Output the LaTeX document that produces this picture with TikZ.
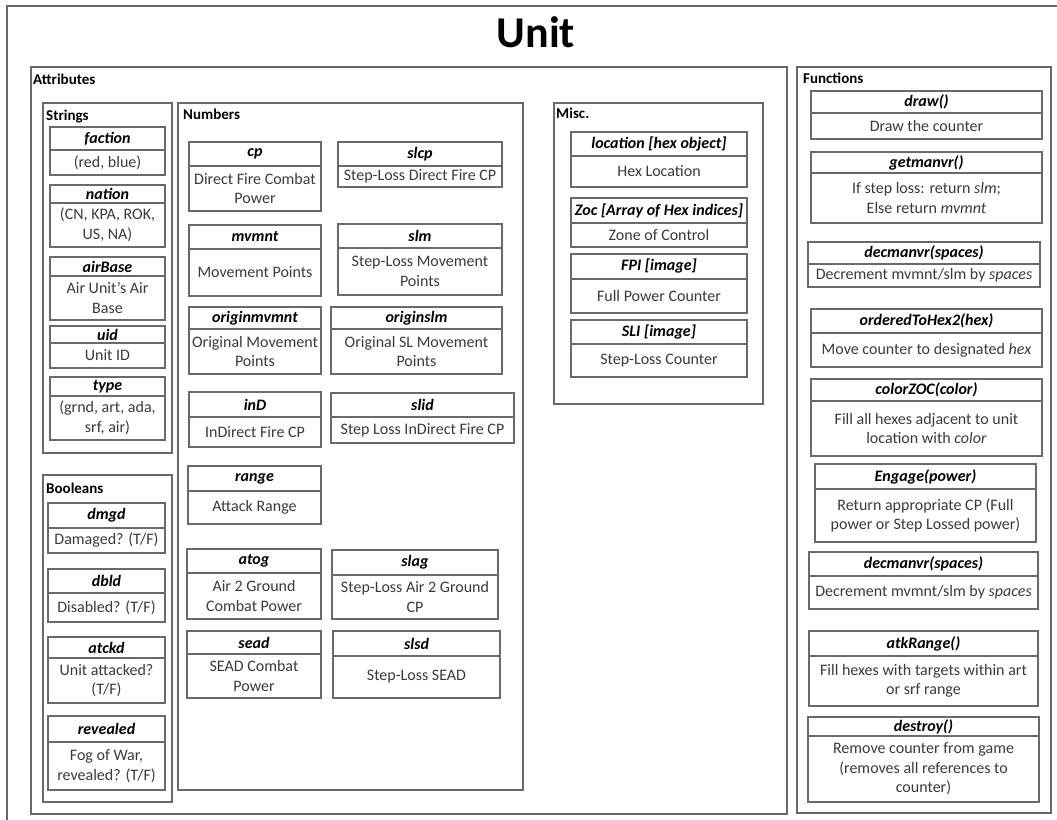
\documentclass[tikz,border=0pt]{standalone}
\usepackage{fontspec}
\setmainfont{Carlito}
\usepackage{xcolor}
\usetikzlibrary{positioning}
\definecolor{linegray}{HTML}{6A6A6A}
\definecolor{textgray}{HTML}{3A3A3A}
\tikzset{fieldhead/.style={draw=linegray,line width=1.2pt,anchor=north west,inner sep=0pt,outer sep=0pt,
             font=\fontsize{16}{19.5}\selectfont\bfseries\itshape},
         fieldbody/.style={draw=linegray,line width=1.2pt,inner sep=0pt,outer sep=0pt,align=center,
             text=textgray,font=\fontsize{16}{19.5}\selectfont},
         group/.style={draw=linegray,line width=1.2pt},
         group label/.style={anchor=base west,inner sep=0pt,font=\fontsize{15}{18}\selectfont\bfseries},
            }
% name, x, y, width, head height, body height, head, body
\newcommand{\field}[8]{%
    \node[fieldhead,minimum width=#4pt,minimum height=#5pt] (#1) at (#2,#3) {#7};
    \node[fieldbody,minimum width=#4pt,minimum height=#6pt,below=0pt of #1] (#1 text) {#8};
}

\begin{document}
\begin{tikzpicture}[x=1pt,y=-1pt]

    \useasboundingbox (0,0) rectangle (1057,819);
    \clip (0,0) rectangle (1057,819);
    \draw[group] (7,6) rectangle (1070,830);
    \node[anchor=base,inner sep=0pt,font=\fontsize{44}{50}\selectfont\bfseries] (title) at (536,47) {Unit};

    % attributes
    \draw[group] (31,67) rectangle (787,814);
    \node[group label] (attr) at (33,84) {Attributes};

    \draw[group] (43,103) rectangle (172,453);
    \node[group label] (strings) at (46,120) {Strings};
    \field{faction}{50}{127}{115}{23}{25}{faction}{(red, blue)}
    \field{nation}{50}{185}{115}{18}{44}{nation}{(CN, KPA, ROK,\\US, NA)}
    \field{airBase}{50}{257}{115}{19}{44}{airBase}{Air Unit’s Air\\Base}
    \field{uid}{50}{326}{115}{17}{25}{uid}{Unit ID}
    \field{type}{50}{377}{115}{19}{44}{type}{(grnd, art, ada,\\srf, air)}

    \draw[group] (43,475) rectangle (172,802);
    \node[group label] (booleans) at (46,493) {Booleans};
    \field{dmgd}{48}{503}{117}{25}{25}{dmgd}{Damaged? (T/F)}
    \field{dbld}{48}{569}{117}{24}{29}{dbld}{Disabled? (T/F)}
    \field{atckd}{48}{637}{117}{21}{45}{atckd}{Unit attacked?\\(T/F)}
    \field{revealed}{48}{716}{117}{26}{48}{revealed}{Fog of War,\\revealed? (T/F)}

    \draw[group] (178,103) rectangle (523,790);
    \node[group label] (numbers) at (183,119) {Numbers};
    \field{cp}{189}{142}{132}{24}{45}{cp}{Direct Fire Combat\\Power}
    \field{slcp}{338}{142}{164}{24}{21}{slcp}{Step-Loss Direct Fire CP}
    \field{mvmnt}{189}{225}{132}{24}{47}{mvmnt}{Movement Points}
    \field{slm}{338}{224}{164}{24}{47}{slm}{Step-Loss Movement\\Points}
    \field{originmvmnt}{189}{307}{132}{22}{45}{originmvmnt}{Original Movement\\Points}
    \field{originslm}{331}{307}{171}{22}{45}{originslm}{Original SL Movement\\Points}
    \field{inD}{189}{392}{132}{25}{30}{inD}{InDirect Fire CP}
    \field{slid}{331}{393}{183}{24}{26}{slid}{Step Loss InDirect Fire CP}
    \field{range}{188}{466}{133}{25}{33}{range}{Attack Range}
    \field{atog}{187}{549}{134}{24}{46}{atog}{Air 2 Ground\\Combat Power}
    \field{slag}{332}{550}{166}{25}{44}{slag}{Step-Loss Air 2 Ground\\CP}
    \field{sead}{187}{631}{134}{23}{44}{sead}{SEAD Combat\\Power}
    \field{slsd}{333}{631}{167}{25}{42}{slsd}{Step-Loss SEAD}

    \draw[group] (554,103) rectangle (763,404);
    \node[group label] (misc) at (556,118) {Misc.};
    \field{location}{571}{132}{176}{24}{31}{location [hex object]}{Hex Location}
    \field{zoc}{571}{198}{176}{25}{24}{Zoc [Array of Hex indices]}{Zone of Control}
    \field{fpi}{571}{254}{176}{25}{34}{FPI [image]}{Full Power Counter}
    \field{sli}{571}{320}{176}{24}{33}{SLI [image]}{Step-Loss Counter}

    % functions
    \draw[group] (797,67) rectangle (1051,813);
    \node[group label] (functions) at (803,83) {Functions};
    \field{draw}{811}{91}{231}{22}{26}{draw()}{Draw the counter}
    \field{getmanvr}{811}{152}{231}{21}{50}{getmanvr()}{If step loss: return \textit{slm};\\Else return \textit{mvmnt}}
    \field{decmanvr}{808}{242}{232}{22}{23}{decmanvr(spaces)}{Decrement mvmnt/slm by \textit{spaces}}
    \field{orderedToHex}{811}{309}{231}{24}{34}{orderedToHex2(hex)}{Move counter to designated \textit{hex}}
    \field{colorZOC}{811}{379}{231}{22}{55}{colorZOC(color)}{Fill all hexes adjacent to unit\\location with \textit{color}}
    \field{engage}{815}{464}{221}{25}{53}{Engage(power)}{Return appropriate CP (Full\\power or Step Lossed power)}
    \field{decmanvrb}{809}{552}{229}{24}{33}{decmanvr(spaces)}{Decrement mvmnt/slm by \textit{spaces}}
    \field{atkRange}{809}{631}{229}{25}{50}{atkRange()}{Fill hexes with targets within art\\or srf range}
    \field{destroy}{808}{717}{231}{19}{66}{destroy()}{Remove counter from game\\(removes all references to\\counter)}

\end{tikzpicture}
\end{document}
